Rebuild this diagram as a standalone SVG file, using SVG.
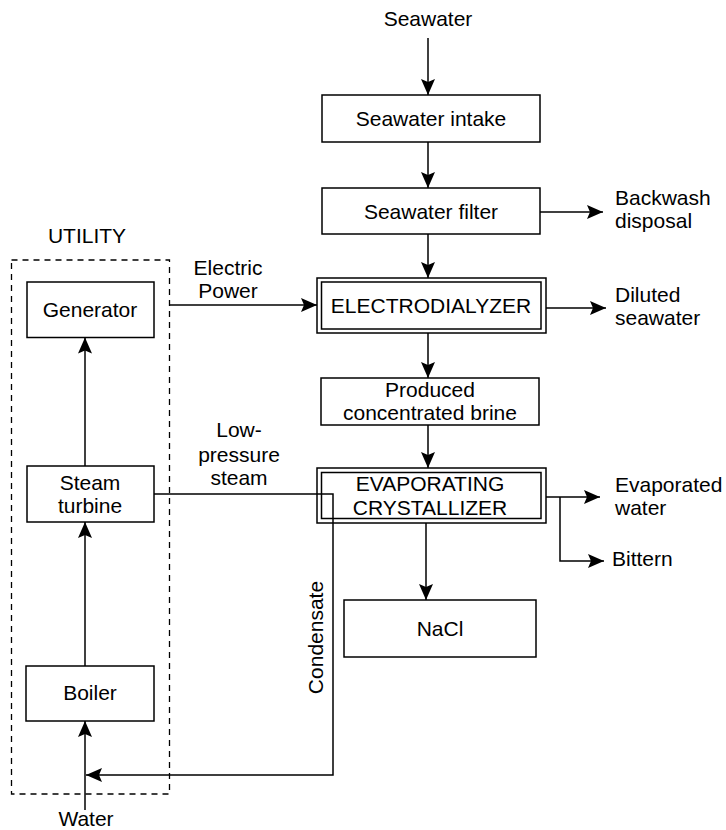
<svg xmlns="http://www.w3.org/2000/svg" width="726" height="830" viewBox="0 0 726 830">
<style>
text{font-family:"Liberation Sans",Arial,sans-serif;font-size:21px;fill:#000}
.box{fill:#fff;stroke:#000;stroke-width:1.5}
.c{text-anchor:middle}
.ln{fill:none;stroke:#000;stroke-width:1.5}
.dash{fill:none;stroke:#000;stroke-width:1.3;stroke-dasharray:6 5}
</style>
<defs>
<marker id="ah" markerUnits="userSpaceOnUse" markerWidth="18" markerHeight="14" refX="16" refY="7" orient="auto">
<path d="M0,0 L16,7 L0,14 L3,7 Z" fill="#000"/>
</marker>
</defs>
<rect width="726" height="830" fill="#fff"/>

<g id="utility">
<rect class="dash" x="11.5" y="260" width="158" height="534"/>
<text class="c" x="87" y="243">UTILITY</text>
</g>

<g id="seawater-intake">
<rect class="box" x="322" y="95" width="218" height="47"/>
<text class="c" x="431" y="126">Seawater intake</text>
</g>

<g id="seawater-filter">
<rect class="box" x="322" y="188" width="218" height="46"/>
<text class="c" x="431" y="219">Seawater filter</text>
</g>

<g id="electrodialyzer">
<rect class="box" x="317" y="278" width="229" height="55"/>
<rect class="box" x="321.5" y="282" width="219.5" height="47"/>
<text class="c" x="431" y="313">ELECTRODIALYZER</text>
</g>

<g id="produced-brine">
<rect class="box" x="321" y="378" width="218" height="47"/>
<text class="c" x="430" y="397">Produced</text>
<text class="c" x="430" y="420">concentrated brine</text>
</g>

<g id="evaporating-crystallizer">
<rect class="box" x="317" y="468" width="229" height="55"/>
<rect class="box" x="321.5" y="472.5" width="219.5" height="46"/>
<text class="c" x="430" y="491">EVAPORATING</text>
<text class="c" x="430" y="515">CRYSTALLIZER</text>
</g>

<g id="nacl">
<rect class="box" x="344" y="600" width="192" height="57"/>
<text class="c" x="440" y="636">NaCl</text>
</g>

<g id="generator">
<rect class="box" x="27" y="282" width="127" height="55.5"/>
<text class="c" x="90" y="317">Generator</text>
</g>

<g id="steam-turbine">
<rect class="box" x="27" y="466" width="127" height="56"/>
<text class="c" x="90" y="490">Steam</text>
<text class="c" x="90" y="513">turbine</text>
</g>

<g id="boiler">
<rect class="box" x="26" y="666" width="128" height="55"/>
<text class="c" x="90" y="700">Boiler</text>
</g>

<g id="connectors">
<path class="ln" d="M428,38 V95" marker-end="url(#ah)"/>
<path class="ln" d="M428,142 V188" marker-end="url(#ah)"/>
<path class="ln" d="M540,212 H603" marker-end="url(#ah)"/>
<path class="ln" d="M428,234 V278" marker-end="url(#ah)"/>
<path class="ln" d="M169.5,305 H317" marker-end="url(#ah)"/>
<path class="ln" d="M546,308 H606" marker-end="url(#ah)"/>
<path class="ln" d="M428,333 V378" marker-end="url(#ah)"/>
<path class="ln" d="M428,425 V468" marker-end="url(#ah)"/>
<path class="ln" d="M546,497 H600" marker-end="url(#ah)"/>
<path class="ln" d="M560,497 V561 H604" marker-end="url(#ah)"/>
<path class="ln" d="M426,523 V600" marker-end="url(#ah)"/>
<path class="ln" d="M85,466 V337.5" marker-end="url(#ah)"/>
<path class="ln" d="M85,666 V522" marker-end="url(#ah)"/>
<path class="ln" d="M85,810 V721" marker-end="url(#ah)"/>
<path class="ln" d="M154,494 H333 V775 H86" marker-end="url(#ah)"/>
<text class="c" x="428" y="26">Seawater</text>
<text x="615" y="205">Backwash</text>
<text x="615" y="228">disposal</text>
<text class="c" x="228" y="275">Electric</text>
<text class="c" x="228" y="298">Power</text>
<text x="615" y="302">Diluted</text>
<text x="615" y="325">seawater</text>
<text class="c" x="239" y="437">Low-</text>
<text class="c" x="239" y="462">pressure</text>
<text class="c" x="239" y="485">steam</text>
<text x="615" y="492">Evaporated</text>
<text x="615" y="515">water</text>
<text x="612" y="566">Bittern</text>
<text class="c" transform="translate(322.5,637.5) rotate(-90)">Condensate</text>
<text class="c" x="86" y="826">Water</text>
</g>
</svg>
